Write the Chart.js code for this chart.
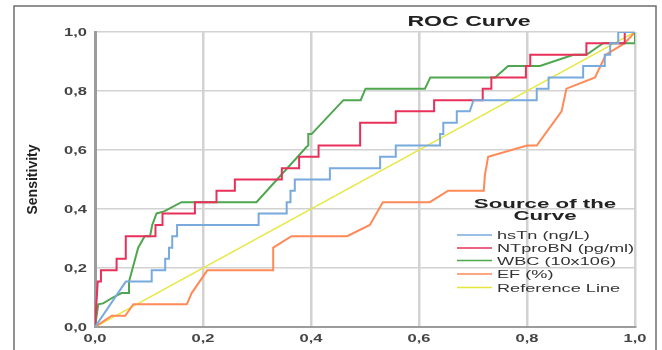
<!DOCTYPE html>
<html>
<head>
<meta charset="utf-8">
<script src="https://cdn.jsdelivr.net/npm/chart.js@4/dist/chart.umd.min.js"></script>
<style>
  html, body { margin: 0; padding: 0; background: #ffffff; }
  #wrap { position: relative; width: 662px; height: 350px; }
</style>
</head>
<body>
<div id="wrap"><canvas id="roc"></canvas></div>
<script>
// ROC coordinates: 1 - specificity (x) and sensitivity (y) for each marker
const hsTnFpr  = [0, 0.057, 0.105, 0.105, 0.130, 0.130, 0.137, 0.137, 0.143, 0.143, 0.152, 0.152, 0.303, 0.303, 0.355, 0.355, 0.362, 0.362, 0.370, 0.370, 0.435, 0.435, 0.528, 0.528, 0.557, 0.557, 0.639, 0.639, 0.645, 0.645, 0.670, 0.670, 0.694, 0.701, 0.818, 0.818, 0.840, 0.840, 0.904, 0.904, 0.944, 0.944, 0.954, 0.954, 0.969, 0.969, 1];
const hsTnSens = [0, 0.154, 0.154, 0.192, 0.192, 0.231, 0.231, 0.269, 0.269, 0.308, 0.308, 0.346, 0.346, 0.385, 0.385, 0.423, 0.423, 0.462, 0.462, 0.500, 0.500, 0.538, 0.538, 0.577, 0.577, 0.615, 0.615, 0.654, 0.654, 0.692, 0.692, 0.731, 0.731, 0.769, 0.769, 0.808, 0.808, 0.846, 0.846, 0.885, 0.885, 0.923, 0.923, 0.962, 0.962, 1, 1];

const ntprobnFpr  = [0, 0.005, 0.011, 0.011, 0.040, 0.040, 0.057, 0.057, 0.112, 0.112, 0.125, 0.125, 0.185, 0.185, 0.225, 0.225, 0.259, 0.259, 0.346, 0.346, 0.378, 0.378, 0.414, 0.414, 0.491, 0.491, 0.557, 0.557, 0.628, 0.628, 0.718, 0.718, 0.734, 0.734, 0.798, 0.798, 0.806, 0.806, 0.910, 0.910, 0.981, 0.981, 1];
const ntprobnSens = [0, 0.154, 0.154, 0.192, 0.192, 0.231, 0.231, 0.308, 0.308, 0.346, 0.346, 0.385, 0.385, 0.423, 0.423, 0.462, 0.462, 0.500, 0.500, 0.538, 0.538, 0.577, 0.577, 0.615, 0.615, 0.692, 0.692, 0.731, 0.731, 0.769, 0.769, 0.808, 0.808, 0.846, 0.846, 0.885, 0.885, 0.923, 0.923, 0.962, 0.962, 1, 1];

const wbcFpr  = [0, 0.006, 0.015, 0.033, 0.049, 0.063, 0.063, 0.080, 0.092, 0.102, 0.106, 0.114, 0.128, 0.160, 0.299, 0.392, 0.395, 0.395, 0.401, 0.460, 0.492, 0.501, 0.611, 0.621, 0.741, 0.765, 0.824, 0.886, 0.910, 0.941, 1, 1];
const wbcSens = [0, 0.077, 0.080, 0.100, 0.115, 0.115, 0.154, 0.269, 0.308, 0.308, 0.346, 0.385, 0.392, 0.423, 0.423, 0.611, 0.615, 0.654, 0.654, 0.769, 0.769, 0.808, 0.808, 0.846, 0.846, 0.885, 0.885, 0.923, 0.923, 0.962, 0.962, 1];

const efFpr  = [0, 0.031, 0.056, 0.071, 0.170, 0.179, 0.208, 0.330, 0.330, 0.364, 0.467, 0.509, 0.533, 0.620, 0.654, 0.720, 0.722, 0.728, 0.800, 0.818, 0.864, 0.873, 0.926, 0.946, 0.981, 1];
const efSens = [0, 0.038, 0.038, 0.077, 0.077, 0.115, 0.192, 0.192, 0.269, 0.308, 0.308, 0.346, 0.423, 0.423, 0.462, 0.462, 0.515, 0.577, 0.615, 0.615, 0.731, 0.808, 0.846, 0.923, 0.962, 1];

const refFpr  = [0, 1];
const refSens = [0, 1];

const seriesNames = ['hsTn (ng/L)', 'NTproBN (pg/ml)', 'WBC (10x106)', 'EF (%)', 'Reference Line'];
const tickLabels  = ['0,0', '0,2', '0,4', '0,6', '0,8', '1,0'];

const colors = ['#78aade', '#e8305a', '#4ea64e', '#ff8a58', '#e6e63c'];
const FONT = '"Liberation Sans", Arial, sans-serif';
const STRETCH = 1.65;

function toPoints(xs, ys) {
  return xs.map((x, i) => ({ x: x, y: ys[i] }));
}

// text drawn with a horizontal stretch
function drawWide(ctx, text, x, y, align, font, color) {
  ctx.save();
  ctx.font = font;
  ctx.fillStyle = color;
  ctx.textBaseline = 'middle';
  ctx.textAlign = 'left';
  const w = ctx.measureText(text).width * STRETCH;
  const left = align === 'center' ? x - w / 2 : (align === 'right' ? x - w : x);
  ctx.translate(left, y);
  ctx.scale(STRETCH, 1);
  ctx.fillText(text, 0, 0);
  ctx.restore();
}

const decorations = {
  id: 'decorations',
  beforeDraw(chart) {
    const ctx = chart.ctx;
    ctx.save();
    ctx.strokeStyle = '#6e6e6e';
    ctx.lineWidth = 1.5;
    ctx.beginPath();
    ctx.moveTo(14, 360);
    ctx.lineTo(14, 6);
    ctx.lineTo(656, 6);
    ctx.lineTo(656, 360);
    ctx.stroke();
    ctx.restore();
  },
  afterDraw(chart) {
    const ctx = chart.ctx;
    const xs = chart.scales.x, ys = chart.scales.y;
    const tickFont = 'bold 10px ' + FONT;

    ys.ticks.forEach((t, i) => {
      drawWide(ctx, tickLabels[i], 87, ys.getPixelForValue(t.value) + 1.5, 'right', tickFont, '#444');
    });
    xs.ticks.forEach((t, i) => {
      drawWide(ctx, tickLabels[i], xs.getPixelForValue(t.value), 339, 'center', tickFont, '#444');
    });

    drawWide(ctx, 'ROC Curve', 469, 22, 'center', 'bold 14px ' + FONT, '#222');

    // legend
    drawWide(ctx, 'Source of the', 545, 204, 'center', 'bold 13.5px ' + FONT, '#222');
    drawWide(ctx, 'Curve', 545, 216, 'center', 'bold 13.5px ' + FONT, '#222');
    const rowY = [236, 249, 261.5, 275, 288.5];
    chart.data.datasets.forEach((ds, i) => {
      const y = rowY[i];
      ctx.save();
      ctx.strokeStyle = ds.borderColor;
      ctx.lineWidth = 1.6;
      ctx.beginPath();
      ctx.moveTo(457, y - 1);
      ctx.lineTo(492, y - 1);
      ctx.stroke();
      ctx.restore();
      drawWide(ctx, ds.label, 497, y, 'left', '11px ' + FONT, '#333');
    });
  }
};

const curves = [
  [hsTnFpr, hsTnSens],
  [ntprobnFpr, ntprobnSens],
  [wbcFpr, wbcSens],
  [efFpr, efSens],
  [refFpr, refSens]
];

new Chart(document.getElementById('roc'), {
  type: 'scatter',
  data: {
    datasets: curves.map((c, i) => ({
      label: seriesNames[i],
      data: toPoints(c[0], c[1]),
      showLine: true,
      borderColor: colors[i],
      backgroundColor: colors[i],
      borderWidth: i === 4 ? 1.5 : 2,
      pointRadius: 0,
      pointHoverRadius: 0,
      tension: 0,
      fill: false
    }))
  },
  options: {
    responsive: true,
    maintainAspectRatio: false,
    animation: false,
    layout: { padding: { left: 0, top: 32, right: 27, bottom: 0 } },
    plugins: {
      legend: { display: false },
      title: { display: false },
      tooltip: { enabled: false }
    },
    scales: {
      x: {
        type: 'linear',
        min: 0, max: 1,
        ticks: { stepSize: 0.2, display: false },
        grid: { color: '#d2d2d2', lineWidth: 2.5, drawTicks: false },
        border: { color: '#9c9c9c', width: 2 },
        afterFit(s) { s.height = 23; }
      },
      y: {
        type: 'linear',
        min: 0, max: 1,
        ticks: { stepSize: 0.2, display: false },
        grid: { color: '#d2d2d2', lineWidth: 1.5, drawTicks: false },
        border: { color: '#9c9c9c', width: 3 },
        title: {
          display: true,
          text: 'Sensitivity',
          color: '#222',
          font: { family: FONT, size: 14, weight: 'bold' },
          padding: { top: 25, bottom: 0 }
        },
        afterFit(s) { s.width = 95; }
      }
    }
  },
  plugins: [decorations]
});
</script>
</body>
</html>
